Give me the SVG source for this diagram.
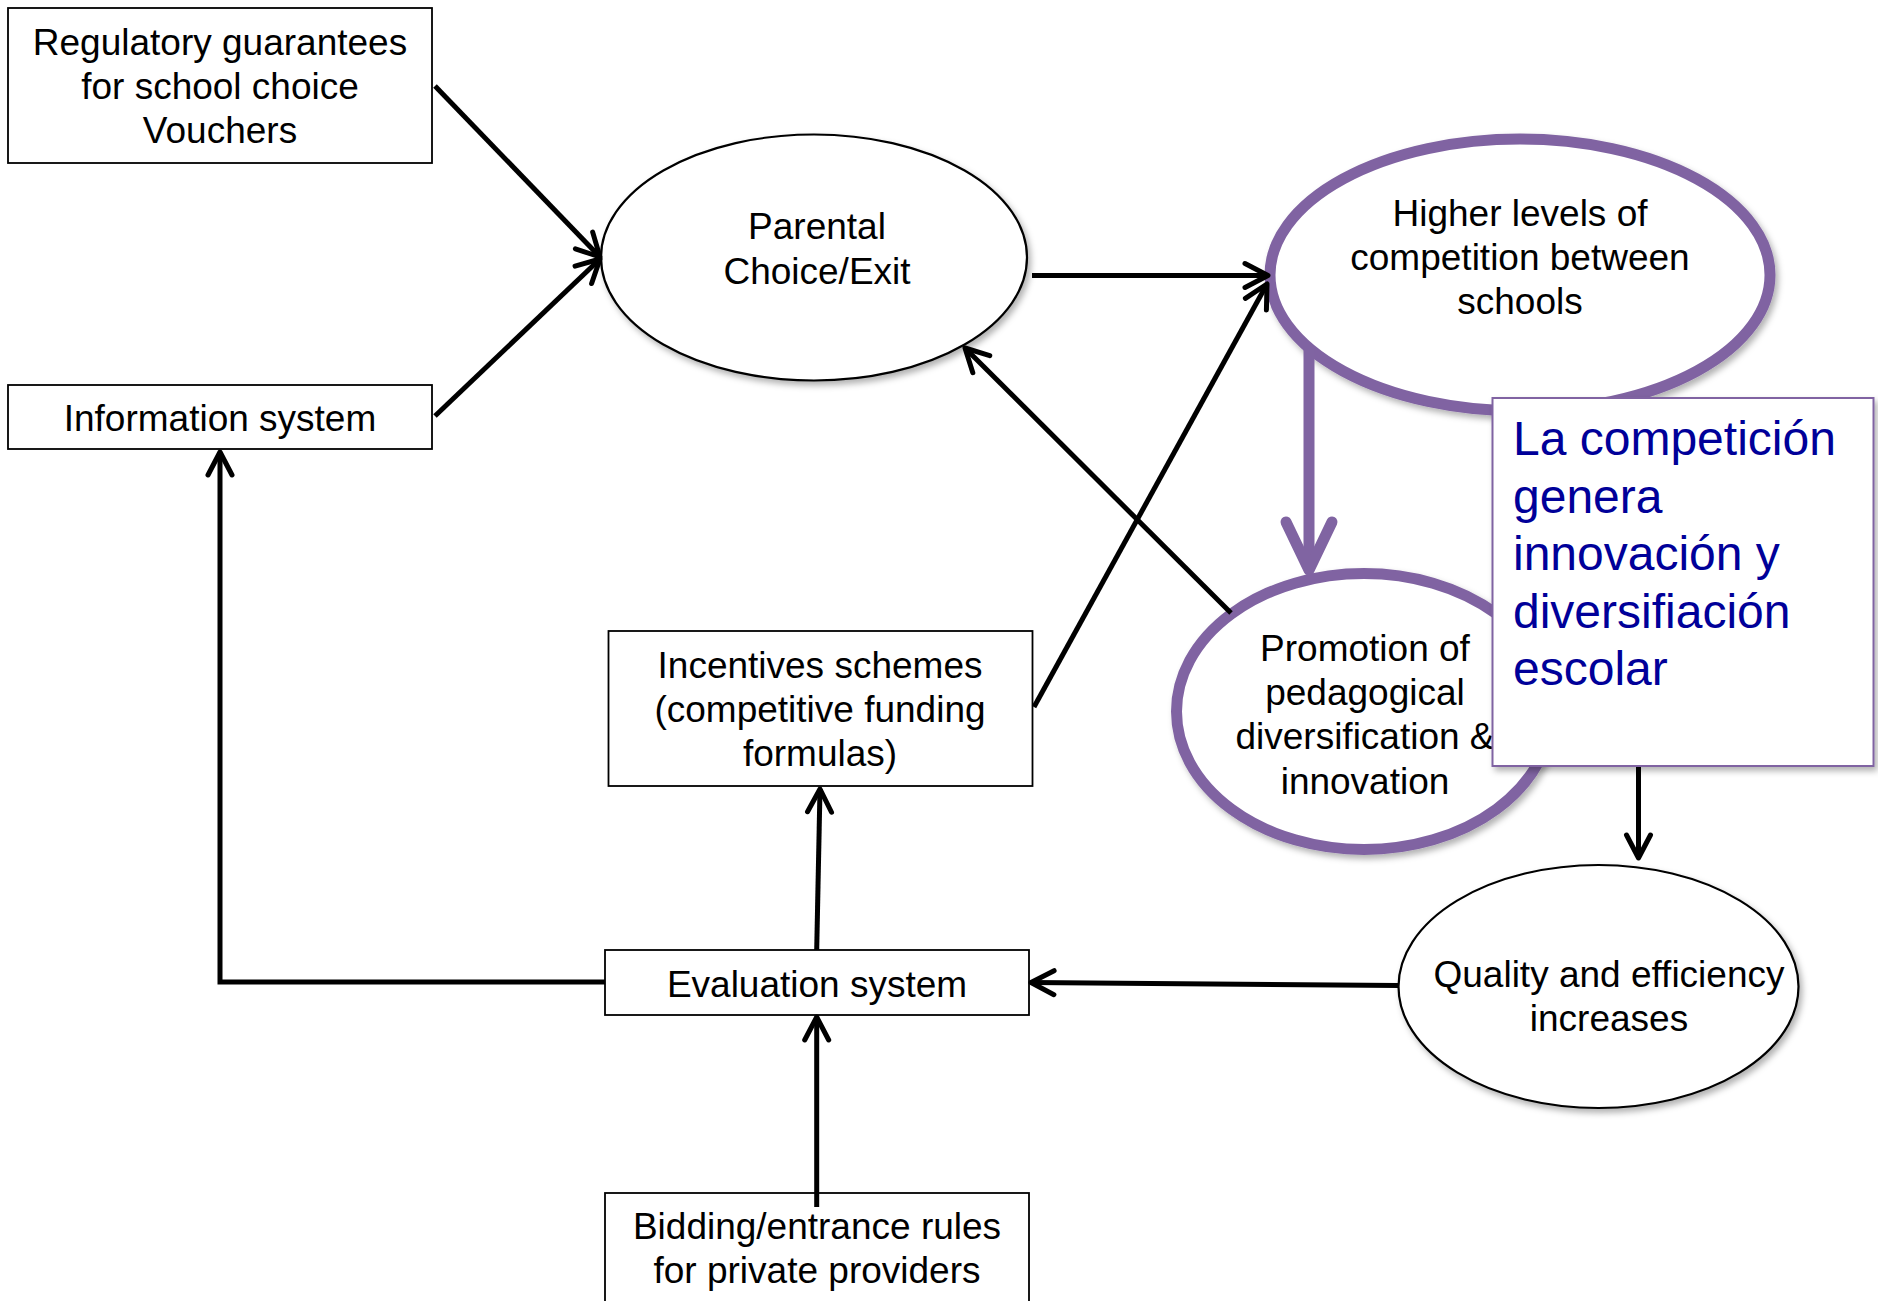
<svg xmlns="http://www.w3.org/2000/svg" width="1878" height="1301" viewBox="0 0 1878 1301">
<defs>
<style>
text{font-family:"Liberation Sans",Arial,sans-serif;font-size:37px;fill:#000;text-anchor:middle}
.box{fill:#fff;stroke:#000;stroke-width:1.8}
.ell{fill:#fff;stroke:#000;stroke-width:2.2}
.pell{fill:#fff;stroke:#8064A2;stroke-width:11}
.con{fill:none;stroke:#000;stroke-width:5}
.pcon{fill:none;stroke:#8064A2;stroke-width:11}
.blue{font-size:48px;fill:#000099;text-anchor:start}
</style>
<filter id="sh" x="-10%" y="-10%" width="125%" height="125%">
<feDropShadow dx="3" dy="4" stdDeviation="3" flood-color="#000" flood-opacity="0.3"/>
</filter>
<marker id="ah" markerUnits="userSpaceOnUse" viewBox="-30 -16 36 32" markerWidth="36" markerHeight="32" refX="0" refY="0" orient="auto" overflow="visible">
<path d="M-23,-12 L0,0 L-23,12" fill="none" stroke="#000" stroke-width="5" stroke-linecap="round" stroke-linejoin="round"/>
</marker>
<marker id="pah" markerUnits="userSpaceOnUse" viewBox="-60 -30 70 60" markerWidth="70" markerHeight="60" refX="0" refY="0" orient="auto" overflow="visible">
<path d="M-48,-23 L0,0 L-48,23" fill="none" stroke="#8064A2" stroke-width="11" stroke-linecap="round" stroke-linejoin="round"/>
</marker>
</defs>
<rect width="1878" height="1301" fill="#fff"/>

<g id="regulatory">
<rect class="box" x="8" y="8" width="424" height="155"/>
<text x="220" y="55">Regulatory guarantees</text>
<text x="220" y="99">for school choice</text>
<text x="220" y="143">Vouchers</text>
</g>
<g id="information">
<rect class="box" x="8" y="385" width="424" height="64"/>
<text x="220" y="431">Information system</text>
</g>
<g id="parental">
<ellipse class="ell" cx="814" cy="257.5" rx="213" ry="123" filter="url(#sh)"/>
<text x="817" y="238.5">Parental</text>
<text x="817" y="283.5">Choice/Exit</text>
</g>
<g id="higher">
<ellipse class="pell" cx="1520" cy="275" rx="250" ry="136" filter="url(#sh)"/>
<text x="1520" y="225.5">Higher levels of</text>
<text x="1520" y="269.5">competition between</text>
<text x="1520" y="313.5">schools</text>
</g>
<g id="promotion">
<ellipse class="pell" cx="1364" cy="711.5" rx="187.5" ry="138" filter="url(#sh)"/>
<text x="1365" y="661">Promotion of</text>
<text x="1365" y="705">pedagogical</text>
<text x="1365" y="749">diversification &amp;</text>
<text x="1365" y="794">innovation</text>
</g>
<g id="incentives">
<rect class="box" x="608.5" y="631" width="424" height="155"/>
<text x="820" y="678">Incentives schemes</text>
<text x="820" y="722">(competitive funding</text>
<text x="820" y="766">formulas)</text>
</g>
<g id="evaluation">
<rect class="box" x="605" y="950" width="424" height="65"/>
<text x="817" y="997">Evaluation system</text>
</g>
<g id="bidding">
<rect class="box" x="605" y="1193" width="424" height="130"/>
<text x="817" y="1239">Bidding/entrance rules</text>
<text x="817" y="1283">for private providers</text>
</g>
<g id="quality">
<ellipse class="ell" cx="1598.5" cy="986.5" rx="200" ry="121.5" filter="url(#sh)"/>
<text x="1609" y="986.5">Quality and efficiency</text>
<text x="1609" y="1030.5">increases</text>
</g>

<g id="connectors">
<line class="con" x1="435" y1="86" x2="600" y2="257" marker-end="url(#ah)"/>
<line class="con" x1="435" y1="416" x2="600" y2="259" marker-end="url(#ah)"/>
<line class="con" x1="1032" y1="275.5" x2="1268" y2="275.5" marker-end="url(#ah)"/>
<line class="con" x1="1034" y1="707" x2="1267" y2="284" marker-end="url(#ah)"/>
<line class="con" x1="1231" y1="613" x2="965" y2="348" marker-end="url(#ah)"/>
<line class="con" x1="816.7" y1="950" x2="820" y2="789" marker-end="url(#ah)"/>
<line class="con" x1="816.7" y1="1207" x2="816.7" y2="1017" marker-end="url(#ah)"/>
<line class="con" x1="1398" y1="985.5" x2="1031" y2="982.5" marker-end="url(#ah)"/>
<polyline class="con" points="605,982 220,982 220,452" marker-end="url(#ah)"/>
<line class="con" x1="1638.5" y1="766" x2="1638.5" y2="858" marker-end="url(#ah)"/>
<line class="pcon" x1="1309" y1="350" x2="1309" y2="570" marker-end="url(#pah)"/>
</g>

<g id="callout">
<rect x="1492.5" y="398" width="381" height="368" fill="#fff" stroke="#8064A2" stroke-width="2" filter="url(#sh)"/>
<text class="blue" x="1513" y="455">La competición</text>
<text class="blue" x="1513" y="512.5">genera</text>
<text class="blue" x="1513" y="570">innovación y</text>
<text class="blue" x="1513" y="627.5">diversifiación</text>
<text class="blue" x="1513" y="685">escolar</text>
</g>
</svg>
